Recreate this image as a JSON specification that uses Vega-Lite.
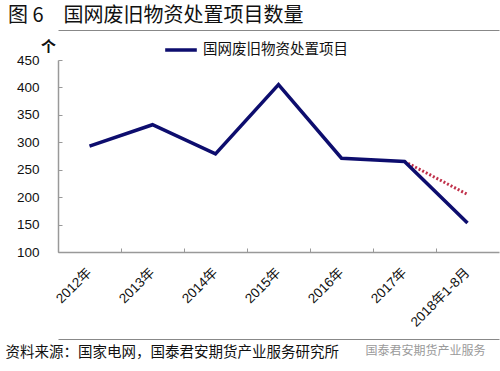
{
  "$schema": "https://vega.github.io/schema/vega-lite/v6.json",
  "autosize": "none",
  "width": 441,
  "height": 192,
  "padding": {"left": 58, "top": 60, "right": 1, "bottom": 119},
  "background": "white",
  "config": {
    "view": {"stroke": null},
    "font": "Liberation Sans, Noto Sans CJK SC"
  },
  "title": {
    "text": "图 6　国网废旧物资处置项目数量",
    "anchor": "start",
    "frame": "group",
    "dx": -50,
    "dy": 8,
    "offset": 12,
    "fontSize": 20,
    "fontWeight": "normal",
    "font": "Noto Sans CJK SC",
    "color": "#111"
  },
  "data": {
    "values": [
      {"year": "2012年", "value": 293, "series": "国网废旧物资处置项目"},
      {"year": "2013年", "value": 332, "series": "国网废旧物资处置项目"},
      {"year": "2014年", "value": 279, "series": "国网废旧物资处置项目"},
      {"year": "2015年", "value": 405, "series": "国网废旧物资处置项目"},
      {"year": "2016年", "value": 271, "series": "国网废旧物资处置项目"},
      {"year": "2017年", "value": 265, "series": "国网废旧物资处置项目"},
      {"year": "2018年1-8月", "value": 153, "series": "国网废旧物资处置项目"},
      {"year": "2017年", "value": 265, "series": "预测"},
      {"year": "2018年1-8月", "value": 205, "series": "预测"}
    ]
  },
  "encoding": {
    "y": {
      "field": "value",
      "type": "quantitative",
      "scale": {"domain": [100, 450], "nice": false, "zero": false},
      "axis": {
        "title": "个",
        "titleAngle": 0,
        "titleX": -10,
        "titleY": -14,
        "titleAlign": "center",
        "titleBaseline": "middle",
        "titleFontSize": 15,
        "titleFontWeight": "bold",
        "titleColor": "#111",
        "values": [100, 150, 200, 250, 300, 350, 400, 450],
        "labelFontSize": 13.5,
        "labelColor": "#111",
        "labelPadding": 23,
        "tickSize": -4,
        "tickColor": "#999",
        "domainColor": "#999",
        "domainWidth": 1.5,
        "grid": false
      }
    }
  },
  "resolve": {"axis": {"x": "independent"}},
  "layer": [
    {
      "transform": [{"filter": "datum.series === '预测'"}],
      "mark": {"type": "line", "color": "#c0304a", "strokeWidth": 3, "strokeDash": [2, 2]},
      "encoding": {
        "x": {
          "field": "year",
          "type": "nominal",
          "scale": {
            "type": "band",
            "paddingInner": 0,
            "paddingOuter": 0,
            "domain": ["2012年", "2013年", "2014年", "2015年", "2016年", "2017年", "2018年1-8月"]
          },
          "axis": {
            "orient": "top",
            "offset": 30,
            "title": null,
            "labels": false,
            "ticks": false,
            "grid": false,
            "domain": true,
            "domainColor": "#888",
            "domainWidth": 1
          }
        }
      }
    },
    {
      "transform": [{"filter": "datum.series === '国网废旧物资处置项目'"}],
      "mark": {"type": "line", "opacity": 0},
      "encoding": {
        "x": {
          "field": "year",
          "type": "nominal",
          "scale": {
            "type": "band",
            "paddingInner": 0,
            "paddingOuter": 0,
            "domain": ["2012年", "2013年", "2014年", "2015年", "2016年", "2017年", "2018年1-8月"]
          },
          "axis": {
            "orient": "top",
            "offset": -279,
            "title": "国泰君安期货产业服务",
            "titleX": 307,
            "titleY": 11,
            "titleAnchor": "start",
            "titleAlign": "left",
            "titleBaseline": "middle",
            "titleFontSize": 12,
            "titleFontWeight": "normal",
            "titleFont": "Noto Sans CJK SC",
            "titleColor": "#9a9a9a",
            "labels": false,
            "ticks": false,
            "grid": false,
            "domain": true,
            "domainColor": "#888",
            "domainWidth": 1
          }
        }
      }
    },
    {
      "transform": [{"filter": "datum.series === '国网废旧物资处置项目'"}],
      "mark": {"type": "line", "strokeWidth": 3.5},
      "encoding": {
        "x": {
          "field": "year",
          "type": "nominal",
          "scale": {
            "type": "band",
            "paddingInner": 0,
            "paddingOuter": 0,
            "domain": ["2012年", "2013年", "2014年", "2015年", "2016年", "2017年", "2018年1-8月"]
          },
          "axis": {
            "orient": "bottom",
            "offset": 0,
            "title": "资料来源：国家电网，国泰君安期货产业服务研究所",
            "titleX": -53,
            "titleY": 100,
            "titleAnchor": "start",
            "titleAlign": "left",
            "titleBaseline": "middle",
            "titleFontSize": 14.5,
            "titleFontWeight": "normal",
            "titleFont": "Noto Sans CJK SC",
            "titleColor": "#111",
            "labelAngle": -45,
            "labelAlign": "right",
            "labelBaseline": "middle",
            "labelFontSize": 13.5,
            "labelColor": "#111",
            "labelPadding": 22,
            "bandPosition": 0,
            "tickSize": -4,
            "tickColor": "#999",
            "domainColor": "#999",
            "domainWidth": 1.5,
            "grid": false
          }
        },
        "color": {
          "field": "series",
          "type": "nominal",
          "scale": {"range": ["#0d0d6e"]},
          "legend": {
            "title": null,
            "orient": "none",
            "legendX": 105,
            "legendY": -28,
            "padding": 0,
            "symbolType": "stroke",
            "symbolSize": 1000,
            "symbolStrokeWidth": 3.5,
            "labelFontSize": 14.5,
            "labelFont": "Noto Sans CJK SC",
            "labelColor": "#111",
            "labelOffset": 4
          }
        }
      }
    }
  ]
}
